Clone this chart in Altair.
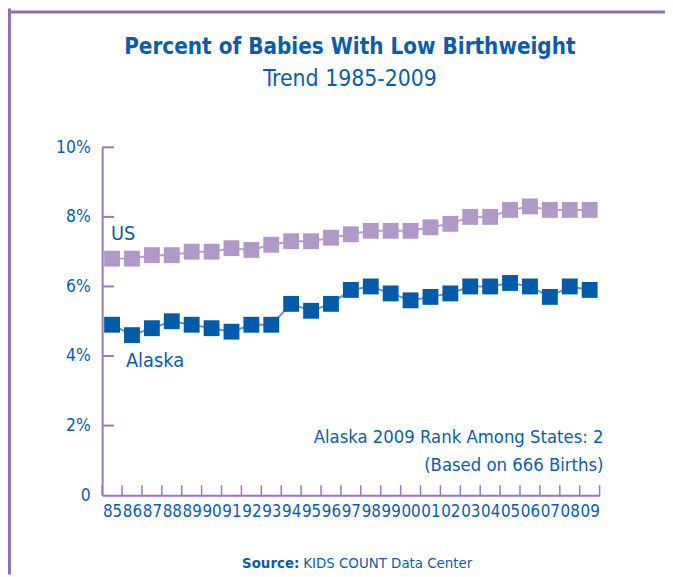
import altair as alt
import pandas as pd

# ---------------- data ----------------
years = list(range(1985, 2010))
us_pct = [6.8, 6.8, 6.9, 6.9, 7.0, 7.0, 7.1, 7.05, 7.2, 7.3, 7.3, 7.4, 7.5,
          7.6, 7.6, 7.6, 7.7, 7.8, 8.0, 8.0, 8.2, 8.3, 8.2, 8.2, 8.2]
alaska_pct = [4.9, 4.6, 4.8, 5.0, 4.9, 4.8, 4.7, 4.9, 4.9, 5.5, 5.3, 5.5, 5.9,
              6.0, 5.8, 5.6, 5.7, 5.8, 6.0, 6.0, 6.1, 6.0, 5.7, 6.0, 5.9]
y_tick_values = [0, 2, 4, 6, 8, 10]

title_text = "Percent of Babies With Low Birthweight"
subtitle_text = "Trend 1985-2009"
rank_text = "Alaska 2009 Rank Among States: 2"
based_text = "(Based on 666 Births)"
source_bold = "Source:"
source_rest = "KIDS COUNT Data Center"

# ---------------- styling ----------------
FONT = "DejaVu Sans Condensed, Liberation Sans Narrow, sans-serif"
BLUE = "#0B5DA9"
AK_SQ = "#005BAA"
AK_LINE = "#6E8FCB"
US_SQ = "#B098C8"
US_LINE = "#ABA3D3"
AX = "#9B76BA"
BORDER = "#9270B4"

W, H = 502, 351
PAD = {"left": 95, "top": 138, "right": 66, "bottom": 80}

xscale = alt.Scale(domain=[years[0] - 0.5, years[-1] + 0.5], nice=False, zero=False)
yscale = alt.Scale(domain=[0, 10], nice=False)

df_us = pd.DataFrame({"year": years, "pct": us_pct})
df_ak = pd.DataFrame({"year": years, "pct": alaska_pct})
df_yt = pd.DataFrame({"pct": y_tick_values[1:]})
df_xt = pd.DataFrame({"year": [y - 0.5 for y in years] + [years[-1] + 0.5]})

x_axis = alt.Axis(values=years, labelExpr="substring(toString(datum.value), 2, 4)",
                  ticks=False, grid=False, domainColor=AX, domainWidth=2,
                  labelFont=FONT, labelFontSize=17, labelColor=BLUE, labelPadding=9,
                  labelFlush=False, labelOverlap=False, title=None)
y_axis = alt.Axis(values=y_tick_values,
                  labelExpr="datum.value == 0 ? '0' : datum.value + '%'",
                  ticks=False, grid=False, domainColor=AX, domainWidth=2,
                  labelFont=FONT, labelFontSize=17.5, labelColor=BLUE, labelPadding=12,
                  title=None)

X = alt.X("year:Q", scale=xscale, axis=x_axis)
Y = alt.Y("pct:Q", scale=yscale, axis=y_axis)


def series_layers(df, line_color, sq_color):
    ln = alt.Chart(df).mark_line(color=line_color, strokeWidth=2).encode(x=X, y=Y)
    sq = alt.Chart(df).mark_square(color=sq_color, size=256, opacity=1).encode(x=X, y=Y)
    return [ln, sq]


ytick_rules = alt.Chart(df_yt).mark_rule(color=AX, strokeWidth=2).encode(
    y=Y, x=alt.value(0), x2=alt.value(12),
)
xtick_rules = alt.Chart(df_xt).mark_rule(color=AX, strokeWidth=1.5).encode(
    x=X, y=alt.value(H), y2=alt.value(H - 10),
)


def label(text, x, y, size, align="left", weight="normal"):
    return alt.Chart(pd.DataFrame({"t": [text]})).mark_text(
        font=FONT, fontSize=size, fontWeight=weight, color=BLUE,
        align=align, baseline="alphabetic",
    ).encode(text="t:N", x=alt.value(x), y=alt.value(y))


texts = [
    label(title_text, 250, -94, 22.5, "center", "bold"),
    label(subtitle_text, 250, -62, 23, "center"),
    label("US", 9, 94, 20),
    label("Alaska", 24, 222, 20),
    label(rank_text, 506, 298, 18.5, "right"),
    label(based_text, 506, 327, 18.5, "right"),
    label(source_bold, 199, 425, 15, "right", "bold"),
    label(source_rest, 203, 425, 15, "left"),
]

frame = [
    alt.Chart(pd.DataFrame({"a": [0]})).mark_rule(color=BORDER, strokeWidth=3).encode(
        x=alt.value(-93.5), y=alt.value(-140), y2=alt.value(H + PAD["bottom"])),
    alt.Chart(pd.DataFrame({"a": [0]})).mark_rule(color=BORDER, strokeWidth=3).encode(
        x=alt.value(-95), x2=alt.value(W + PAD["right"]), y=alt.value(-136.5)),
]

layers = [ytick_rules, xtick_rules]
layers += series_layers(df_us, US_LINE, US_SQ)
layers += series_layers(df_ak, AK_LINE, AK_SQ)
layers += texts + frame

chart = alt.layer(*layers).properties(
    width=W, height=H, padding=PAD, autosize=alt.AutoSizeParams(type="none"),
    background="white",
).configure_view(stroke=None)

chart.save("out.html", embed_options={"renderer": "svg", "actions": False})
